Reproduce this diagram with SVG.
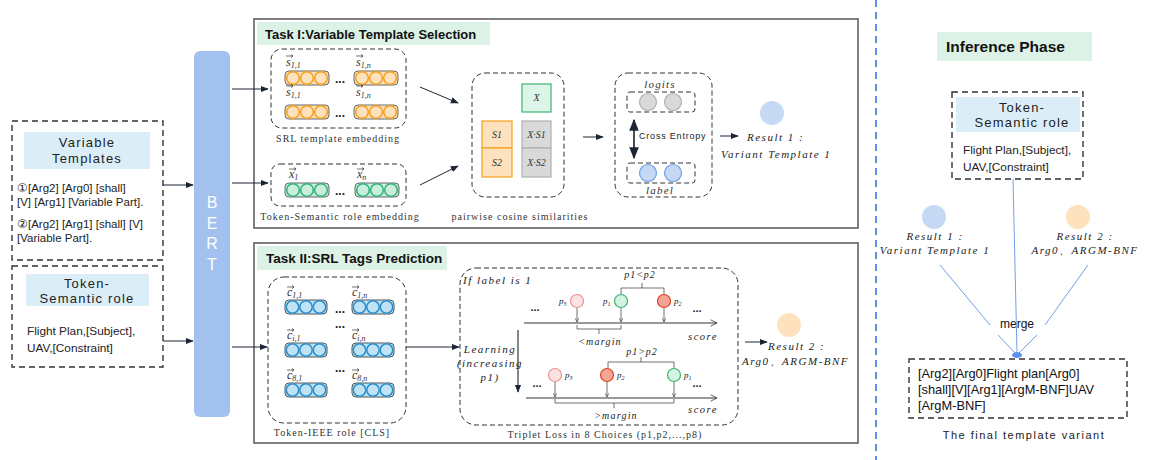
<svg xmlns="http://www.w3.org/2000/svg" width="1156" height="460" viewBox="0 0 1156 460">
<style>
.sans{font-family:"Liberation Sans",Arial,sans-serif}
.ser{font-family:"Liberation Serif","Times New Roman",serif}
.it{font-family:"Liberation Serif","Times New Roman",serif;font-style:italic}
.dbox{fill:none;stroke:#333;stroke-width:1.4;stroke-dasharray:6 4}
.rbox{fill:none;stroke:#333;stroke-width:1;stroke-dasharray:5 3}
.task{fill:#fff;stroke:#555;stroke-width:1.5}
.hdr{fill:#dcf2e6}
.lb{fill:#dbeef8}
.ln{stroke:#1c2536;stroke-width:1;fill:none}
.bl{stroke:#6fa0e8;stroke-width:1;fill:none}
.va{stroke:#333;stroke-width:0.7;fill:none}
.cap{font-size:10px;letter-spacing:1px;fill:#333}
.res{font-size:11px;letter-spacing:1.5px;fill:#222}
</style>
<defs>
<marker id="ah" viewBox="0 0 10 10" refX="9" refY="5" markerWidth="8" markerHeight="8" orient="auto-start-reverse"><path d="M0,1 L10,5 L0,9 z" fill="#1c2536"/></marker>
<marker id="oh" viewBox="0 0 10 10" refX="9" refY="5" markerWidth="8" markerHeight="8" orient="auto"><path d="M1,1 L9,5 L1,9" fill="none" stroke="#333" stroke-width="1"/></marker>
<marker id="sh" viewBox="0 0 10 10" refX="9" refY="5" markerWidth="7" markerHeight="7" orient="auto"><path d="M1,1 L9,5 L1,9" fill="none" stroke="#333" stroke-width="1.2"/></marker>
<g id="capO"><rect x="0" y="0" width="44" height="14" rx="4" fill="#fde2bd" stroke="#666"/><circle cx="8" cy="7" r="6.3" fill="#fde2bd" stroke="#f5a01a" stroke-width="1.5"/><circle cx="22" cy="7" r="6.3" fill="#fde2bd" stroke="#f5a01a" stroke-width="1.5"/><circle cx="36" cy="7" r="6.3" fill="#fde2bd" stroke="#f5a01a" stroke-width="1.5"/></g>
<g id="capG"><rect x="0" y="0" width="44" height="14" rx="4" fill="#c9efdc" stroke="#666"/><circle cx="8" cy="7" r="6.3" fill="#c9efdc" stroke="#2fb37a" stroke-width="1.5"/><circle cx="22" cy="7" r="6.3" fill="#c9efdc" stroke="#2fb37a" stroke-width="1.5"/><circle cx="36" cy="7" r="6.3" fill="#c9efdc" stroke="#2fb37a" stroke-width="1.5"/></g>
<g id="capB"><rect x="0" y="0" width="42" height="14" rx="4" fill="#bfe3f5" stroke="#555"/><circle cx="7.5" cy="7" r="6.2" fill="#bfe3f5" stroke="#2a8fcf" stroke-width="1.5"/><circle cx="21" cy="7" r="6.2" fill="#bfe3f5" stroke="#2a8fcf" stroke-width="1.5"/><circle cx="34.5" cy="7" r="6.2" fill="#bfe3f5" stroke="#2a8fcf" stroke-width="1.5"/></g>
<path id="vec" d="M0,0 h7 m-2,-1.6 l2,1.6 l-2,1.6"/>
</defs>

<!-- divider -->
<line x1="876" y1="0" x2="876" y2="460" stroke="#5b8ff0" stroke-width="2" stroke-dasharray="7 5"/>

<!-- Left input boxes -->
<g id="var-templates">
<rect class="dbox" x="12" y="121" width="151" height="139"/>
<rect class="lb" x="24" y="132" width="126" height="37"/>
<text class="sans" x="87" y="147" font-size="13" letter-spacing="1.2" text-anchor="middle" fill="#222">Variable</text>
<text class="sans" x="87" y="163" font-size="13" letter-spacing="1.2" text-anchor="middle" fill="#222">Templates</text>
<text class="sans" font-size="11.5" fill="#222"><tspan x="17" y="192">①[Arg2] [Arg0] [shall]</tspan><tspan x="17" y="206">[V] [Arg1] [Variable Part].</tspan><tspan x="17" y="228">②[Arg2] [Arg1] [shall] [V]</tspan><tspan x="17" y="242">[Variable Part].</tspan></text>
</g>
<g id="token-semantic">
<rect class="dbox" x="12" y="266" width="151" height="101"/>
<rect class="lb" x="26" y="274" width="123" height="32"/>
<text class="sans" x="87" y="288" font-size="13" letter-spacing="1.2" text-anchor="middle" fill="#222">Token-</text>
<text class="sans" x="87" y="303" font-size="13" letter-spacing="1.2" text-anchor="middle" fill="#222">Semantic role</text>
<text class="sans" font-size="11.8" fill="#222"><tspan x="27" y="335">Flight Plan,[Subject],</tspan><tspan x="27" y="352">UAV,[Constraint]</tspan></text>
</g>

<!-- BERT -->
<g id="bert">
<rect x="194" y="51" width="36" height="366" rx="6" fill="#a2c1ef"/>
<text class="sans" font-size="16" fill="#fff" text-anchor="middle"><tspan x="212" y="208">B</tspan><tspan x="212" y="229">E</tspan><tspan x="212" y="249">R</tspan><tspan x="212" y="270">T</tspan></text>
</g>

<!-- Task I -->
<g id="task1">
<rect class="task" x="254" y="19" width="604" height="209"/>
<rect class="hdr" x="257" y="22" width="233" height="23"/>
<text class="sans" x="265" y="39" font-size="13" font-weight="bold" fill="#111">Task I:Variable Template Selection</text>
</g>
<g id="srl-template">
<rect class="rbox" x="271" y="49" width="135" height="79" rx="11"/>
<use href="#capO" x="285" y="71"/><use href="#capO" x="354" y="71"/>
<use href="#capO" x="285" y="105"/><use href="#capO" x="354" y="105"/>
<text class="sans" x="340" y="83" font-size="12" font-weight="bold" text-anchor="middle" fill="#222">...</text>
<text class="sans" x="340" y="117" font-size="12" font-weight="bold" text-anchor="middle" fill="#222">...</text>
<text class="it" x="286" y="66" font-size="12" fill="#333">s<tspan font-size="8" dy="2">1,1</tspan></text>
<text class="it" x="356" y="66" font-size="12" fill="#333">s<tspan font-size="8" dy="2">1,n</tspan></text>
<text class="it" x="286" y="96" font-size="12" fill="#333">s<tspan font-size="8" dy="2">1,1</tspan></text>
<text class="it" x="356" y="96" font-size="12" fill="#333">s<tspan font-size="8" dy="2">1,n</tspan></text>
<use href="#vec" class="va" x="286" y="56"/><use href="#vec" class="va" x="356" y="56"/>
<use href="#vec" class="va" x="286" y="86"/><use href="#vec" class="va" x="356" y="86"/>
<text class="ser cap" x="338" y="142" text-anchor="middle">SRL template embedding</text>
</g>
<g id="token-sem-emb">
<rect class="rbox" x="271" y="164" width="135" height="42" rx="9"/>
<use href="#capG" x="285" y="183"/><use href="#capG" x="355" y="183"/>
<text class="sans" x="340" y="195" font-size="12" font-weight="bold" text-anchor="middle" fill="#222">...</text>
<text class="it" x="289" y="178" font-size="12" fill="#333">x<tspan font-size="8" dy="2">1</tspan></text>
<text class="it" x="357" y="178" font-size="12" fill="#333">x<tspan font-size="8" dy="2">n</tspan></text>
<use href="#vec" class="va" x="289" y="169"/><use href="#vec" class="va" x="357" y="169"/>
<text class="ser cap" x="340" y="220" text-anchor="middle">Token-Semantic role embedding</text>
</g>
<g id="pairwise">
<rect class="rbox" x="472" y="73" width="92" height="124" rx="13"/>
<rect x="522" y="84" width="29" height="28" fill="#dcf5e8" stroke="#3cb371" stroke-width="1.2"/>
<rect x="482" y="121" width="30" height="27" fill="#fde2bd" stroke="#f5a01a" stroke-width="1.2"/>
<rect x="482" y="148" width="30" height="29" fill="#fde2bd" stroke="#f5a01a" stroke-width="1.2"/>
<rect x="522" y="121" width="29" height="27" fill="#d9d9d9" stroke="#b0b0b0" stroke-width="1.2"/>
<rect x="522" y="148" width="29" height="29" fill="#d9d9d9" stroke="#b0b0b0" stroke-width="1.2"/>
<text class="it" font-size="10" fill="#333" text-anchor="middle"><tspan x="536.5" y="101">X</tspan><tspan x="497" y="138">S1</tspan><tspan x="497" y="166">S2</tspan><tspan x="536.5" y="138">X·S1</tspan><tspan x="536.5" y="166">X·S2</tspan></text>
<text class="ser cap" x="520" y="220" text-anchor="middle">pairwise cosine similarities</text>
</g>
<g id="logits-label">
<rect class="rbox" x="615" y="73" width="97" height="124" rx="13"/>
<text class="it" x="660" y="88" font-size="11" letter-spacing="1.2" text-anchor="middle" fill="#333">logits</text>
<rect class="rbox" x="627" y="92" width="68" height="20" rx="3"/>
<circle cx="648" cy="102" r="8.5" fill="#d9d9d9" stroke="#b0b0b0" stroke-width="1.2"/>
<circle cx="673" cy="102" r="8.5" fill="#d9d9d9" stroke="#b0b0b0" stroke-width="1.2"/>
<rect class="rbox" x="627" y="163" width="68" height="20" rx="3"/>
<circle cx="648" cy="173" r="8.5" fill="#c5d9f5" stroke="#6fa0e8" stroke-width="1.2"/>
<circle cx="673" cy="173" r="8.5" fill="#c5d9f5" stroke="#6fa0e8" stroke-width="1.2"/>
<text class="it" x="660" y="194" font-size="11" letter-spacing="1.2" text-anchor="middle" fill="#333">label</text>
<line x1="634" y1="120" x2="634" y2="158" stroke="#111" stroke-width="1.5" marker-start="url(#ah)" marker-end="url(#ah)"/>
<text class="sans" x="639" y="139" font-size="9" letter-spacing="0.8" fill="#222">Cross Entropy</text>
</g>
<g id="result1">
<circle cx="772" cy="113" r="12" fill="#c5d9f5"/>
<text class="it res" x="747" y="141">Result 1 :</text>
<text class="it res" x="721" y="158">Variant Template 1</text>
</g>

<!-- Task II -->
<g id="task2">
<rect class="task" x="254" y="243" width="604" height="200"/>
<rect class="hdr" x="257" y="246" width="190" height="24"/>
<text class="sans" x="266" y="263" font-size="13.5" font-weight="bold" fill="#111">Task II:SRL Tags Prediction</text>
</g>
<g id="token-ieee">
<rect class="rbox" x="268" y="277" width="138" height="146" rx="16"/>
<use href="#capB" x="285" y="300"/><use href="#capB" x="352" y="300"/>
<use href="#capB" x="285" y="343"/><use href="#capB" x="352" y="343"/>
<use href="#capB" x="285" y="383"/><use href="#capB" x="352" y="383"/>
<text class="sans" x="340" y="313" font-size="12" font-weight="bold" text-anchor="middle" fill="#222">...</text>
<text class="sans" x="340" y="328" font-size="12" font-weight="bold" text-anchor="middle" fill="#222">...</text>
<text class="sans" x="340" y="372" font-size="12" font-weight="bold" text-anchor="middle" fill="#222">...</text>
<text class="it" x="287" y="296" font-size="12" fill="#333">c<tspan font-size="8" dy="2">1,1</tspan></text>
<text class="it" x="352" y="296" font-size="12" fill="#333">c<tspan font-size="8" dy="2">1,n</tspan></text>
<text class="it" x="287" y="339" font-size="12" fill="#333">c<tspan font-size="8" dy="2">i,1</tspan></text>
<text class="it" x="352" y="339" font-size="12" fill="#333">c<tspan font-size="8" dy="2">i,n</tspan></text>
<text class="it" x="287" y="379" font-size="12" fill="#333">c<tspan font-size="8" dy="2">8,1</tspan></text>
<text class="it" x="352" y="379" font-size="12" fill="#333">c<tspan font-size="8" dy="2">8,n</tspan></text>
<use href="#vec" class="va" x="287" y="287"/><use href="#vec" class="va" x="352" y="287"/>
<use href="#vec" class="va" x="287" y="330"/><use href="#vec" class="va" x="352" y="330"/>
<use href="#vec" class="va" x="287" y="370"/><use href="#vec" class="va" x="352" y="370"/>
<text class="ser cap" x="332" y="436" text-anchor="middle">Token-IEEE role [CLS]</text>
</g>
<g id="triplet">
<rect class="rbox" x="460" y="268" width="278" height="157" rx="16"/>
<text class="it" x="463" y="284" font-size="11" letter-spacing="1.5" fill="#222">If label is 1</text>
<!-- row 1 -->
<text class="it" x="640" y="278" font-size="10" letter-spacing="1" text-anchor="middle" fill="#222">p1&lt;p2</text>
<path d="M621,294 V288 H664 V294 M642,288 V283" class="va" stroke-width="1"/>
<circle cx="577" cy="301" r="6.5" fill="#fce3e3" stroke="#f09090" stroke-width="1.2"/>
<circle cx="621" cy="301" r="6.5" fill="#d5f2e2" stroke="#3cb371" stroke-width="1.2"/>
<circle cx="664" cy="301" r="6.5" fill="#f5a595" stroke="#e0401f" stroke-width="1.2"/>
<text class="it" font-size="9" fill="#222"><tspan x="559" y="304">p</tspan><tspan font-size="6" dy="1.5">3</tspan></text>
<text class="it" font-size="9" fill="#222"><tspan x="603" y="304">p</tspan><tspan font-size="6" dy="1.5">1</tspan></text>
<text class="it" font-size="9" fill="#222"><tspan x="674" y="304">p</tspan><tspan font-size="6" dy="1.5">2</tspan></text>
<line x1="577" y1="308" x2="577" y2="322" class="va" stroke-width="1" marker-end="url(#sh)"/>
<line x1="621" y1="308" x2="621" y2="322" class="va" stroke-width="1" marker-end="url(#sh)"/>
<line x1="664" y1="308" x2="664" y2="322" class="va" stroke-width="1" marker-end="url(#sh)"/>
<line x1="524" y1="323" x2="717" y2="323" stroke="#333" stroke-width="1" marker-end="url(#oh)"/>
<text class="sans" x="535" y="311" font-size="11" font-weight="bold" text-anchor="middle" fill="#222">...</text>
<text class="sans" x="697" y="312" font-size="11" font-weight="bold" text-anchor="middle" fill="#222">...</text>
<path d="M577,325 V329 H621 V325 M599,329 V334" class="va" stroke-width="1"/>
<text class="it" x="600" y="345" font-size="10" letter-spacing="1.2" text-anchor="middle" fill="#222">&lt;margin</text>
<text class="it" x="703" y="340" font-size="10.5" letter-spacing="1.5" text-anchor="middle" fill="#222">score</text>
<!-- learning -->
<text class="it" font-size="11" letter-spacing="1.5" text-anchor="middle" fill="#222"><tspan x="490" y="353">Learning</tspan><tspan x="490" y="367">(increasing</tspan><tspan x="490" y="381">p1)</tspan></text>
<line x1="518" y1="330" x2="518" y2="392" stroke="#111" stroke-width="1" marker-end="url(#ah)"/>
<!-- row 2 -->
<text class="it" x="642" y="355" font-size="10" letter-spacing="1" text-anchor="middle" fill="#222">p1&gt;p2</text>
<path d="M608,368 V362 H674 V368 M641,362 V357" class="va" stroke-width="1"/>
<circle cx="555" cy="375" r="6.5" fill="#fce3e3" stroke="#f09090" stroke-width="1.2"/>
<circle cx="607" cy="375" r="6.5" fill="#f5a595" stroke="#e0401f" stroke-width="1.2"/>
<circle cx="674" cy="375" r="6.5" fill="#d5f2e2" stroke="#3cb371" stroke-width="1.2"/>
<text class="it" font-size="9" fill="#222"><tspan x="565" y="378">p</tspan><tspan font-size="6" dy="1.5">3</tspan></text>
<text class="it" font-size="9" fill="#222"><tspan x="617" y="378">p</tspan><tspan font-size="6" dy="1.5">2</tspan></text>
<text class="it" font-size="9" fill="#222"><tspan x="684" y="378">p</tspan><tspan font-size="6" dy="1.5">1</tspan></text>
<line x1="555" y1="382" x2="555" y2="397" class="va" stroke-width="1" marker-end="url(#sh)"/>
<line x1="607" y1="382" x2="607" y2="397" class="va" stroke-width="1" marker-end="url(#sh)"/>
<line x1="674" y1="382" x2="674" y2="397" class="va" stroke-width="1" marker-end="url(#sh)"/>
<line x1="526" y1="398" x2="717" y2="398" stroke="#333" stroke-width="1" marker-end="url(#oh)"/>
<text class="sans" x="537" y="387" font-size="11" font-weight="bold" text-anchor="middle" fill="#222">...</text>
<text class="sans" x="697" y="387" font-size="11" font-weight="bold" text-anchor="middle" fill="#222">...</text>
<path d="M555,399 V403 H674 V399 M614,403 V408" class="va" stroke-width="1"/>
<text class="it" x="616" y="419" font-size="10" letter-spacing="1.2" text-anchor="middle" fill="#222">&gt;margin</text>
<text class="it" x="703" y="413" font-size="10.5" letter-spacing="1.5" text-anchor="middle" fill="#222">score</text>
<text class="ser cap" x="605" y="438" text-anchor="middle">Triplet Loss in 8 Choices (p1,p2,...,p8)</text>
</g>
<g id="result2">
<circle cx="789" cy="325" r="12" fill="#fde2bd"/>
<text class="it res" x="768" y="350">Result 2 :</text>
<text class="it res" x="742" y="365">Arg0、ARGM-BNF</text>
</g>

<!-- Inference phase -->
<g id="inference-title">
<rect class="hdr" x="937" y="32" width="155" height="29"/>
<text class="sans" x="946" y="52" font-size="15.5" font-weight="bold" fill="#111">Inference Phase</text>
</g>
<g id="inf-token">
<rect class="dbox" x="952" y="92" width="131" height="87"/>
<rect class="lb" x="956" y="97" width="124" height="35"/>
<text class="sans" x="1022" y="112" font-size="13" letter-spacing="1.2" text-anchor="middle" fill="#222">Token-</text>
<text class="sans" x="1022" y="127" font-size="13" letter-spacing="1.2" text-anchor="middle" fill="#222">Semantic role</text>
<text class="sans" font-size="11.8" fill="#222"><tspan x="963" y="154">Flight Plan,[Subject],</tspan><tspan x="963" y="171">UAV,[Constraint]</tspan></text>
</g>
<g id="inf-result1">
<circle cx="934" cy="217" r="12" fill="#c5d9f5"/>
<text class="it res" x="935" y="240" text-anchor="middle">Result 1 :</text>
<text class="it res" x="935" y="254" text-anchor="middle">Variant Template 1</text>
</g>
<g id="inf-result2">
<circle cx="1078" cy="217" r="12" fill="#fde2bd"/>
<text class="it res" x="1085" y="240" text-anchor="middle">Result 2 :</text>
<text class="it res" x="1085" y="254" text-anchor="middle">Arg0、ARGM-BNF</text>
</g>
<g id="final">
<rect class="dbox" x="909" y="359" width="218" height="59"/>
<text class="sans" font-size="12.8" fill="#111"><tspan x="918" y="378">[Arg2][Arg0]Flight plan[Arg0]</tspan><tspan x="918" y="394">[shall][V][Arg1][ArgM-BNF]UAV</tspan><tspan x="918" y="410">[ArgM-BNF]</tspan></text>
<text class="sans" x="1024" y="439" font-size="11" letter-spacing="1.5" text-anchor="middle" fill="#222">The final template variant</text>
</g>
<text class="sans" x="1017" y="328" font-size="12" text-anchor="middle" fill="#111">merge</text>

<!-- connectors -->
<g id="connectors">
<line class="ln" x1="163" y1="185" x2="193" y2="185" marker-end="url(#ah)"/>
<line class="ln" x1="163" y1="341" x2="193" y2="341" marker-end="url(#ah)"/>
<line class="ln" x1="232" y1="89" x2="268" y2="89" marker-end="url(#ah)"/>
<line class="ln" x1="232" y1="183" x2="268" y2="183" marker-end="url(#ah)"/>
<line class="ln" x1="232" y1="347" x2="267" y2="347" marker-end="url(#ah)"/>
<line class="ln" x1="420" y1="87" x2="458" y2="103" marker-end="url(#ah)"/>
<line class="ln" x1="420" y1="185" x2="458" y2="166" marker-end="url(#ah)"/>
<line class="ln" x1="583" y1="137" x2="603" y2="137" marker-end="url(#ah)"/>
<line class="ln" x1="720" y1="136" x2="738" y2="136" marker-end="url(#ah)"/>
<line class="ln" x1="406" y1="347" x2="459" y2="347" marker-end="url(#ah)"/>
<line class="ln" x1="745" y1="342" x2="767" y2="342" marker-end="url(#ah)"/>
<line class="bl" x1="1013" y1="179" x2="1017" y2="353"/>
<line class="bl" x1="940" y1="265" x2="990" y2="325"/>
<line class="bl" x1="998" y1="335" x2="1016" y2="354"/>
<line class="bl" x1="1088" y1="265" x2="1045" y2="325"/>
<line class="bl" x1="1037" y1="335" x2="1018" y2="354"/>
<ellipse cx="1017" cy="355" rx="5" ry="3" fill="#5b8ff0"/>
</g>
</svg>
